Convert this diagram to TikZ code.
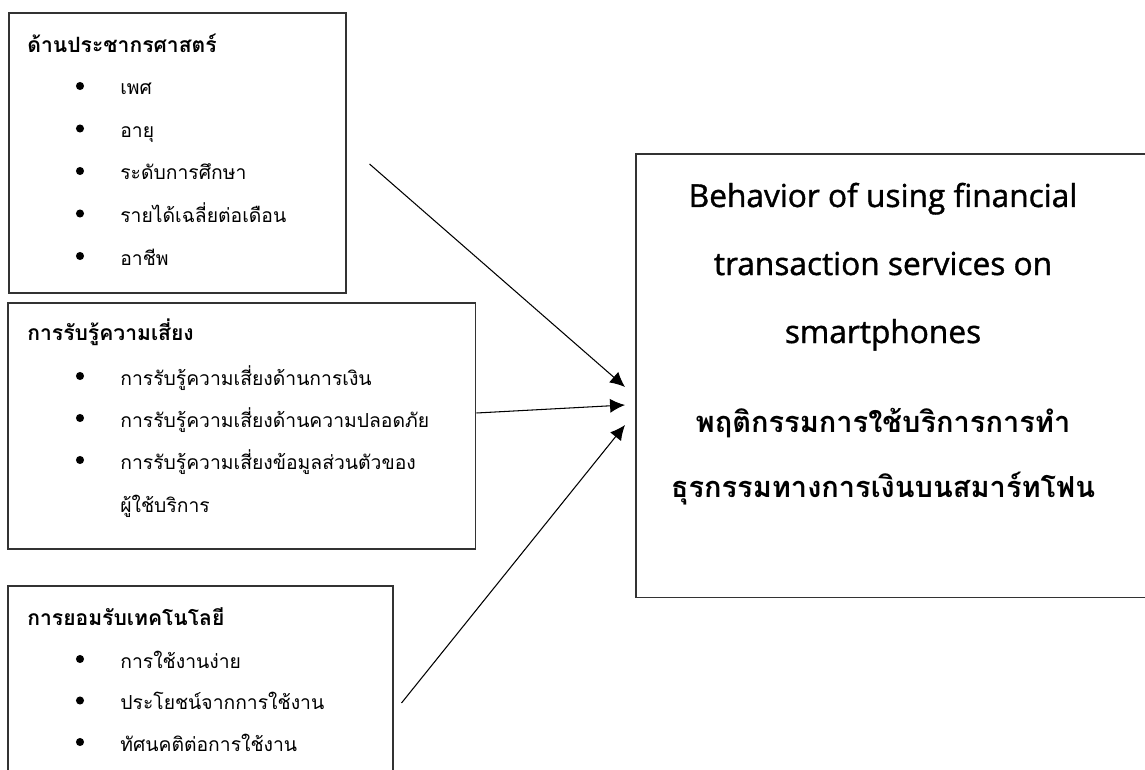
\documentclass[tikz,border=0pt]{standalone}
\usepackage{fontspec}
\setmainfont{Loma}[Script=Thai]
\newfontfamily\latinfont{Open Sans}[FakeBold=1.2]
\usepackage{tikz}
\usetikzlibrary{calc,arrows.meta}
\tikzstyle{cf}=[
  x=0.02cm, y=-0.02cm, >={Latex[length=8.5pt,width=8pt]}
]
\tikzstyle{cfbox}=[
  draw=black!80, line width=0.9pt, anchor=north west, inner sep=0pt
]
\tikzstyle{cfhead}=[
  anchor=base west, inner sep=0pt, font=\bfseries\fontsize{12}{14}\selectfont
]
\tikzstyle{cfitem}=[
  anchor=base west, inner sep=0pt, font=\fontsize{11}{13}\selectfont
]
\tikzstyle{cfdot}=[
  circle, fill, inner sep=0pt, minimum size=4.6pt
]
\tikzstyle{cftitle}=[
  anchor=base, inner sep=0pt, font=\latinfont\fontsize{18}{21}\selectfont
]
\tikzstyle{cfthai}=[
  anchor=base, inner sep=0pt, font=\bfseries\fontsize{16.5}{20}\selectfont
]
\tikzstyle{cfedge}=[
  ->, line width=0.6pt
]
\begin{document}
\begin{tikzpicture}[cf]
    \path[use as bounding box, clip] (0,0) rectangle (1145,770);
    % boxes
    \node (demo) [cfbox, minimum width=6.74cm, minimum height=5.6cm] at (8,12) {};
    \node (risk) [cfbox, minimum width=9.36cm, minimum height=4.92cm] at (7,302) {};
    \node (tech) [cfbox, minimum width=7.7cm, minimum height=4.6cm] at (7,585) {};
    \node (result) [cfbox, minimum width=11.6cm, minimum height=8.88cm] at (635,153) {};
    % demographics
    \node (demo head) [cfhead] at ($(demo.north west) + (19, 41)$) {ด้านประชากรศาสตร์};
    \node (demo sex) [cfitem] at ($(demo.north west) + (112, 83)$) {เพศ};
    \node (demo age) [cfitem] at ($(demo sex.base west) + (0, 42.5)$) {อายุ};
    \node (demo edu) [cfitem] at ($(demo age.base west) + (0, 42.5)$) {ระดับการศึกษา};
    \node (demo income) [cfitem] at ($(demo edu.base west) + (0, 42.5)$) {รายได้เฉลี่ยต่อเดือน};
    \node (demo job) [cfitem] at ($(demo income.base west) + (0, 42.5)$) {อาชีพ};
    \node (dot sex) [cfdot] at ($(demo sex.base west) + (-40, -9)$) {};
    \node (dot age) [cfdot] at ($(demo age.base west) + (-40, -9)$) {};
    \node (dot edu) [cfdot] at ($(demo edu.base west) + (-40, -9)$) {};
    \node (dot income) [cfdot] at ($(demo income.base west) + (-40, -9)$) {};
    \node (dot job) [cfdot] at ($(demo job.base west) + (-40, -9)$) {};
    % risk perception
    \node (risk head) [cfhead] at ($(risk.north west) + (20, 38)$) {การรับรู้ความเสี่ยง};
    \node (risk money) [cfitem] at ($(risk.north west) + (113, 83)$) {การรับรู้ความเสี่ยงด้านการเงิน};
    \node (risk safe) [cfitem] at ($(risk money.base west) + (0, 42)$) {การรับรู้ความเสี่ยงด้านความปลอดภัย};
    \node (risk data) [cfitem] at ($(risk safe.base west) + (0, 42)$) {การรับรู้ความเสี่ยงข้อมูลส่วนตัวของ};
    \node (risk user) [cfitem] at ($(risk data.base west) + (0, 43)$) {ผู้ใช้บริการ};
    \node (dot money) [cfdot] at ($(risk money.base west) + (-40, -9)$) {};
    \node (dot safe) [cfdot] at ($(risk safe.base west) + (-40, -9)$) {};
    \node (dot data) [cfdot] at ($(risk data.base west) + (-40, -9)$) {};
    % technology acceptance
    \node (tech head) [cfhead] at ($(tech.north west) + (20, 40)$) {การยอมรับเทคโนโลยี};
    \node (tech ease) [cfitem] at ($(tech.north west) + (113, 83)$) {การใช้งานง่าย};
    \node (tech use) [cfitem] at ($(tech ease.base west) + (0, 41.5)$) {ประโยชน์จากการใช้งาน};
    \node (tech att) [cfitem] at ($(tech use.base west) + (0, 41.5)$) {ทัศนคติต่อการใช้งาน};
    \node (dot ease) [cfdot] at ($(tech ease.base west) + (-40, -9)$) {};
    \node (dot use) [cfdot] at ($(tech use.base west) + (-40, -9)$) {};
    \node (dot att) [cfdot] at ($(tech att.base west) + (-40, -9)$) {};
    % behaviour
    \node (title1) [cftitle] at ($(result.north west) + (248, 54)$) {Behavior of using financial};
    \node (title2) [cftitle] at ($(title1.base) + (0, 68)$) {transaction services on};
    \node (title3) [cftitle] at ($(title2.base) + (0, 68)$) {smartphones};
    \node (title4) [cfthai] at ($(title3.base) + (0, 89)$) {พฤติกรรมการใช้บริการการทำ};
    \node (title5) [cfthai] at ($(title4.base) + (0, 65)$) {ธุรกรรมทางการเงินบนสมาร์ทโฟน};
    % arrows
    \coordinate (from demo) at ($(demo.north east) + (23, 152)$);
    \coordinate (from risk) at ($(risk.north east) + (0, 111)$);
    \coordinate (from tech) at ($(tech.north east) + (8, 118)$);
    \coordinate (to demo) at ($(result.north west) + (-10, 234)$);
    \coordinate (to risk) at ($(result.north west) + (-10, 252)$);
    \coordinate (to tech) at ($(result.north west) + (-10, 272)$);
    \draw [cfedge] (from demo) -- (to demo);
    \draw [cfedge] (from risk) -- (to risk);
    \draw [cfedge] (from tech) -- (to tech);
\end{tikzpicture}
\end{document}
